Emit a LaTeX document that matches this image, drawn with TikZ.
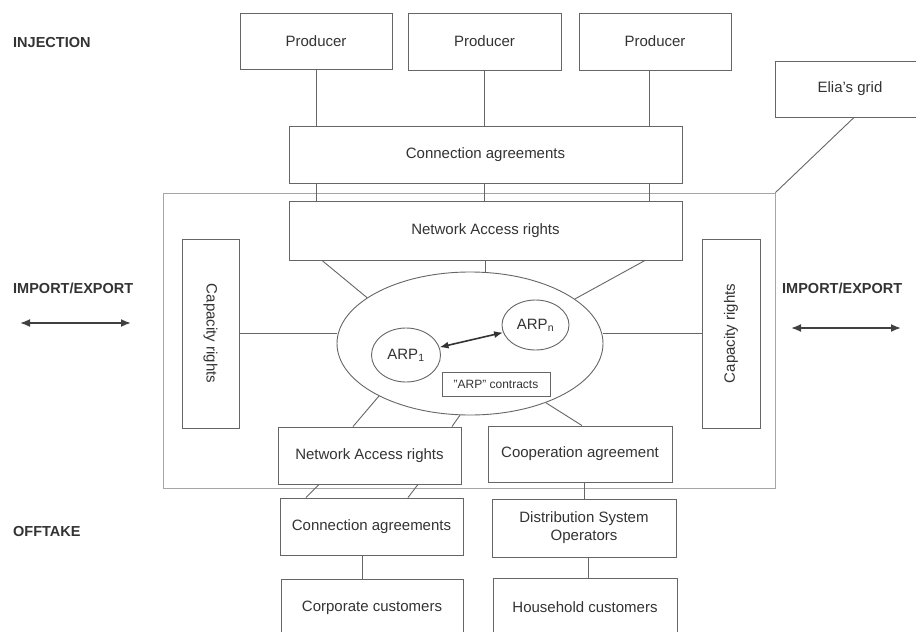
\documentclass[tikz,border=0pt]{standalone}
\usepackage{fontspec}
\setmainfont{Liberation Sans}
\usetikzlibrary{shapes.geometric,arrows.meta}
\begin{document}
\begin{tikzpicture}[x=1pt,y=-1pt,
  every node/.style={font=\fontsize{15}{18}\selectfont, text=black!80},
  box/.style={draw=black!60, line width=0.9pt, inner sep=0pt, align=center},
  conn/.style={draw=black!60, line width=0.9pt},
  sidelab/.style={font=\fontsize{14.5}{17}\selectfont\bfseries, text=black!80, anchor=west, inner sep=0pt},
  ioarrow/.style={draw=black!75, line width=1.8pt, {Latex[length=10pt,width=8pt]}-{Latex[length=10pt,width=8pt]}}
]
\clip (0,0) rectangle (916,632);
\fill[white] (0,0) rectangle (916,632);

% big area
\node[draw=black!35, line width=0.9pt, inner sep=0pt, minimum width=612pt, minimum height=295pt] (area) at (469,340.5) {};

% side labels
\node[sidelab] (inj) at (13,43) {INJECTION};
\node[sidelab] (ieL) at (13,288) {IMPORT/EXPORT};
\node[sidelab] (ieR) at (782,288) {IMPORT/EXPORT};
\node[sidelab] (off) at (13,532) {OFFTAKE};
\coordinate (aL1) at (20,323);
\coordinate (aL2) at (131,323);
\coordinate (aR1) at (791,328);
\coordinate (aR2) at (901,328);
\draw[ioarrow] (aL1) -- (aL2);
\draw[ioarrow] (aR1) -- (aR2);

% top boxes
\node[box, minimum width=152pt, minimum height=56pt] (p1) at (316,41) {Producer};
\node[box, minimum width=153pt, minimum height=57pt] (p2) at (484.5,41.5) {Producer};
\node[box, minimum width=152pt, minimum height=57pt] (p3) at (655,41.5) {Producer};
\node[box, minimum width=150pt, minimum height=56pt] (elia) at (850,89) {Elia's grid};
\node[box, minimum width=393pt, minimum height=57pt] (ca) at (485.5,154.5) {Connection agreements};
\node[box, minimum width=393pt, minimum height=59pt] (na) at (485.5,230.5) {Network Access rights};

% capacity rights
\node[box, minimum width=57pt, minimum height=189pt] (cl) at (210.5,333.5) {};
\node[rotate=-90, inner sep=0pt] (clt) at (cl) {Capacity rights};
\node[box, minimum width=58pt, minimum height=189pt] (cr) at (731,333.5) {};
\node[rotate=90, inner sep=0pt] (crt) at (cr) {Capacity rights};

% ellipse and ARPs
\node[box, ellipse, minimum width=266pt, minimum height=143pt] (ell) at (470,343.5) {};
\node[box, ellipse, minimum width=69pt, minimum height=54pt] (arp1) at (406,355) {ARP\textsubscript{1}};
\node[box, ellipse, minimum width=67pt, minimum height=50pt] (arpn) at (535.5,325) {ARP\textsubscript{n}};
\node[box, minimum width=108pt, minimum height=24pt, font=\fontsize{12}{14}\selectfont] (arpc) at (496,384) {\symbol{34}ARP\symbol{34} contracts};
\draw[draw=black!80, line width=1.6pt, {Latex[length=9pt,width=7pt]}-{Latex[length=9pt,width=7pt]}] (arp1) -- (arpn);

% bottom boxes
\node[box, minimum width=183pt, minimum height=57pt] (nab) at (369.5,455.5) {Network Access rights};
\node[box, minimum width=184pt, minimum height=56pt] (coop) at (580,454) {Cooperation agreement};
\node[box, minimum width=183pt, minimum height=57pt] (cab) at (371.5,526.5) {Connection agreements};
\node[box, minimum width=184pt, minimum height=58pt] (dso) at (584,528) {Distribution System\\Operators};
\node[box, minimum width=182pt, minimum height=58pt] (corp) at (372,608) {Corporate customers};
\node[box, minimum width=184pt, minimum height=59pt] (house) at (585,607.5) {Household customers};

% vertical guide coordinates
\coordinate (v1) at (316,0);
\coordinate (v2) at (484,0);
\coordinate (v3) at (649,0);

% connectors
\draw[conn] (v1 |- p1.south) -- (v1 |- ca.north);
\draw[conn] (v2 |- p2.south) -- (v2 |- ca.north);
\draw[conn] (v3 |- p3.south) -- (v3 |- ca.north);
\draw[conn] (v1 |- ca.south) -- (v1 |- na.north);
\draw[conn] (v2 |- ca.south) -- (v2 |- na.north);
\draw[conn] (v3 |- ca.south) -- (v3 |- na.north);
\draw[conn] ([xshift=4pt]elia.south) -- (area.north east);

\draw[conn] ([xshift=-163.5pt]na.south) -- (ell.156.2);
\draw[conn] (na.south) -- (na.south |- ell.north);
\draw[conn] ([xshift=159.5pt]na.south) -- (ell.23);
\draw[conn] (cl.east) -- (cl.east -| ell.west);
\draw[conn] (cr.west) -- (cr.west -| ell.east);

\draw[conn] (ell.210.5) -- ([xshift=-16.5pt]nab.north);
\draw[conn] (ell.262) -- ([xshift=82.5pt]nab.north);
\draw[conn] (ell.322.8) -- ([xshift=2pt]coop.north);

\draw[conn] ([xshift=-50.5pt]nab.south) -- ([xshift=-65.5pt]cab.north);
\draw[conn] ([xshift=48.5pt]nab.south) -- ([xshift=36.5pt]cab.north);
\draw[conn] (dso.north |- coop.south) -- (dso.north);
\draw[conn] ([xshift=-9.5pt]cab.south) -- ([xshift=-9.5pt]cab.south |- corp.north);
\draw[conn] ([xshift=4pt]dso.south) -- ([xshift=4pt]dso.south |- house.north);
\end{tikzpicture}
\end{document}
